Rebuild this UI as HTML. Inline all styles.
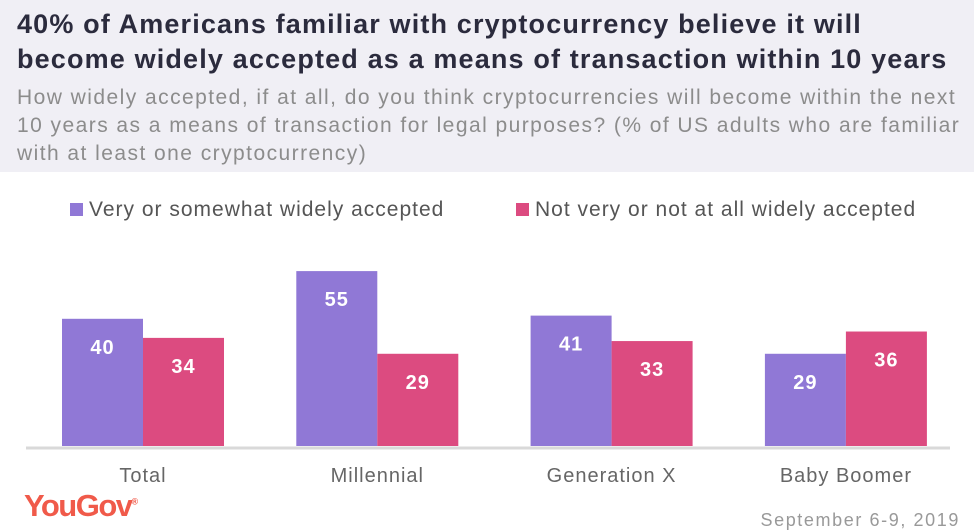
<!DOCTYPE html>
<html><head><meta charset="utf-8"><style>
body{margin:0;width:974px;height:531px;background:#fff;font-family:"Liberation Sans",sans-serif;position:relative;overflow:hidden}
#hdr{position:absolute;left:0;top:0;width:974px;height:172px;background:#f0eff5}
#title{position:absolute;left:17px;top:7px;font-size:27px;font-weight:bold;color:#2b2b3d;line-height:35px;letter-spacing:1.15px;white-space:nowrap}
#sub{position:absolute;left:17px;top:84px;font-size:21px;color:#8c8c8c;line-height:28px;letter-spacing:1.45px;white-space:nowrap}
.leg{position:absolute;top:198px;font-size:21px;color:#555;letter-spacing:1.0px;white-space:nowrap}
.sw{display:inline-block;width:13px;height:13px;margin-right:6px;vertical-align:0px}
svg{position:absolute;left:0;top:0}
#logo{position:absolute;left:24px;top:488px;font-size:31px;font-weight:bold;color:#f05a4a;letter-spacing:-1.5px}
#date{position:absolute;right:14px;top:510px;font-size:18px;color:#999;letter-spacing:1.6px}
</style></head><body>
<div id="hdr"></div>
<div id="title">40% of Americans familiar with cryptocurrency believe it will<br>become widely accepted as a means of transaction within 10 years</div>
<div id="sub">How widely accepted, if at all, do you think cryptocurrencies will become within the next<br>10 years as a means of transaction for legal purposes? (% of US adults who are familiar<br>with at least one cryptocurrency)</div>
<div class="leg" style="left:70px"><span class="sw" style="background:#9078d6"></span>Very or somewhat widely accepted</div>
<div class="leg" style="left:516px"><span class="sw" style="background:#dc4b80"></span>Not very or not at all widely accepted</div>
<svg id="chart" width="974" height="531"></svg>
<div id="logo">YouGov<sup style="font-size:9px">®</sup></div>
<div id="date">September 6-9, 2019</div>
<script>
const categories=["Total","Millennial","Generation X","Baby Boomer"];
const accepted=[40,55,41,29];
const notAccepted=[34,29,33,36];
const ns="http://www.w3.org/2000/svg";
const svg=document.getElementById('chart');
const base=446, scale=3.18;
const y=v=>base-v*scale;
const groupX=i=>62+i*234.3;
function add(tag,attrs,text){const e=document.createElementNS(ns,tag);for(const k in attrs)e.setAttribute(k,attrs[k]);if(text!==undefined)e.textContent=text;svg.appendChild(e);return e;}
const ax=add('line',{x1:26,x2:950,y1:448,y2:448,stroke:'#d9d9d9','stroke-width':3});


categories.forEach((c,i)=>{
  const x0=groupX(i);
  [[accepted[i],'#9078d6',0,'accepted'],[notAccepted[i],'#dc4b80',81,'not-accepted']].forEach(([v,col,off,nm])=>{
    const r=add('rect',{x:x0+off,y:y(v),width:81,height:v*scale,fill:col});
    
    
    const t=add('text',{x:x0+off+40.5,y:y(v)+35,'text-anchor':'middle','font-size':20,'font-weight':'bold',fill:'#fff','font-family':'Liberation Sans','letter-spacing':1},v);
    
    
  });
  const l=add('text',{x:x0+81,y:482,'text-anchor':'middle','font-size':20,fill:'#666','font-family':'Liberation Sans','letter-spacing':1},c);
  
  
});
</script>
</body></html>
